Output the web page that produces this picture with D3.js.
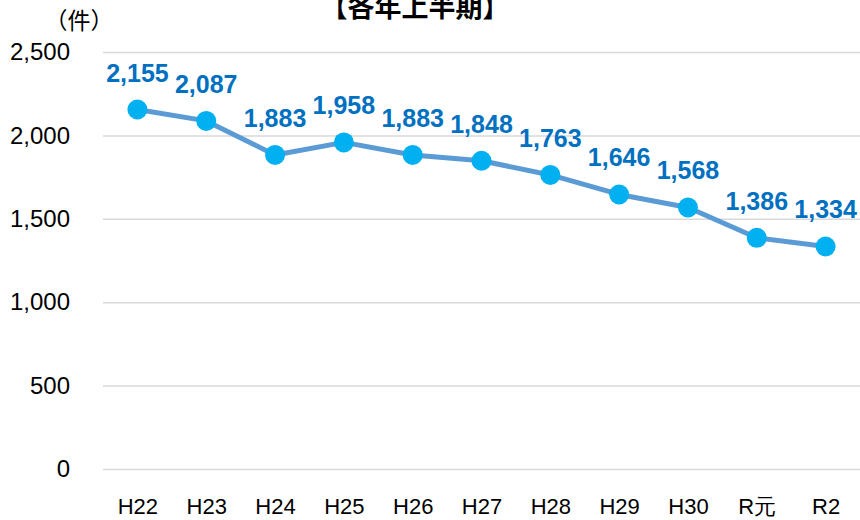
<!DOCTYPE html>
<html>
<head>
<meta charset="utf-8">
<script src="https://cdn.jsdelivr.net/npm/d3@7"></script>
<style>
  body { margin: 0; background: #fff; }
  svg { display: block; font-family: "Liberation Sans", "Noto Sans CJK JP", sans-serif; }
  .axis .domain { display: none; }
  .axis.y line { stroke: #d9d9d9; stroke-width: 1.5; }
</style>
</head>
<body>
<script>
// data
var years = ['H22', 'H23', 'H24', 'H25', 'H26', 'H27', 'H28', 'H29', 'H30', 'R元', 'R2'];
var counts = [2155, 2087, 1883, 1958, 1883, 1848, 1763, 1646, 1568, 1386, 1334];
var yTicks = [0, 500, 1000, 1500, 2000, 2500];

var w = 860, h = 520;
var plot = { left: 103, right: 860, top: 52, bottom: 469 };

var svg = d3.select('body').append('svg')
  .attr('width', w)
  .attr('height', h);

var x = d3.scalePoint()
  .domain(years)
  .range([plot.left, plot.right])
  .padding(0.5);

var y = d3.scaleLinear()
  .domain([0, 2500])
  .range([plot.bottom, plot.top]);

// gridlines + y labels
svg.append('g')
  .attr('class', 'axis y')
  .attr('transform', 'translate(' + plot.left + ',0)')
  .call(d3.axisLeft(y)
    .tickValues(yTicks)
    .tickSize(-(plot.right - plot.left))
    .tickPadding(33)
    .tickFormat(d3.format(',')))
  .selectAll('text')
    .attr('fill', '#000')
    .style('font-size', '24px');

// x labels
svg.append('g')
  .attr('class', 'axis x')
  .attr('transform', 'translate(0,' + plot.bottom + ')')
  .call(d3.axisBottom(x).tickSize(0).tickPadding(29))
  .selectAll('text')
    .attr('fill', '#000')
    .style('font-size', '22px');

// unit + title (title is cut at the top edge, as in the original)
svg.append('text')
  .attr('x', 79).attr('y', 29)
  .attr('text-anchor', 'middle')
  .style('font-size', '23px')
  .text('（件）');

svg.append('text')
  .attr('x', 415).attr('y', 17)
  .attr('text-anchor', 'middle')
  .style('font-size', '27px')
  .style('font-weight', 'bold')
  .text('【各年上半期】');

// line
var line = d3.line()
  .x(function(d, i) { return x(years[i]); })
  .y(function(d) { return y(d); });

svg.append('path')
  .datum(counts)
  .attr('d', line)
  .attr('fill', 'none')
  .attr('stroke', '#5b9bd5')
  .attr('stroke-width', 5)
  .attr('stroke-linejoin', 'round');

svg.selectAll('circle.pt')
  .data(counts)
  .enter().append('circle')
    .attr('class', 'pt')
    .attr('cx', function(d, i) { return x(years[i]); })
    .attr('cy', function(d) { return y(d); })
    .attr('r', 10)
    .attr('fill', '#00b0f0');

// data labels
svg.selectAll('text.lbl')
  .data(counts)
  .enter().append('text')
    .attr('class', 'lbl')
    .attr('x', function(d, i) { return x(years[i]); })
    .attr('y', function(d) { return y(d) - 28; })
    .attr('text-anchor', 'middle')
    .attr('fill', '#0070c0')
    .style('font-size', '25px')
    .style('font-weight', 'bold')
    .text(function(d) { return d3.format(',')(d); });
</script>
</body>
</html>
